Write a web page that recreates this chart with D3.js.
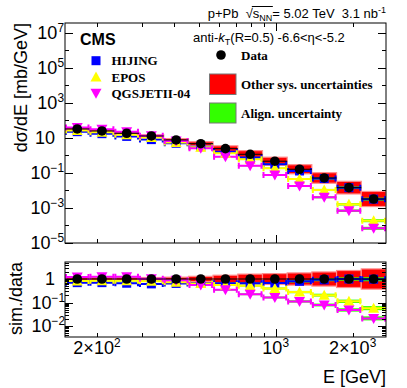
<!DOCTYPE html>
<html>
<head>
<meta charset="utf-8">
<script src="https://cdn.jsdelivr.net/npm/d3@7"></script>
<style>
body { margin: 0; background: #fff; }
svg { display: block; }
text { font-family: "Liberation Sans", Arial, sans-serif; white-space: pre; }
.leg { font-family: "Liberation Serif", "Times New Roman", serif; font-weight: bold; font-size: 13px; }
</style>
</head>
<body>
<div id="chart"></div>
<script>
// energy bins (GeV), 13 log bins
const binEdges = [150, 187, 234, 292, 365, 456, 569, 711, 888, 1109, 1385, 1730, 2161, 2700]
// measured cross section, mb/GeV
const dataXsec = [32.7, 25.1, 18.6, 13.0, 7.7, 4.7, 2.45, 1.17, 0.47, 0.163, 0.052, 0.0145, 0.00327]
// other systematic uncertainty (relative, as factor 1+u)
const sysUnc = [0.15, 0.15, 0.15, 0.16, 0.2, 0.3, 0.45, 0.62, 0.7, 0.82, 1.0, 1.3, 1.7]
// generator predictions, mb/GeV
const hijing = [22.9, 17.6, 12.3, 8.06, 5.0, 3.2, 1.62, 0.77, 0.32, 0.13, 0.048, 0.0145, 0.0032]
const epos = [27, 21, 15.5, 10.5, 5.6, 3.0, 1.35, 0.61, 0.186, 0.0454, 0.0107, 0.00163, 0.000188]
const qgsjet = [40, 31, 23, 13.5, 6.8, 2.6, 0.853, 0.261, 0.077, 0.0181, 0.00408, 0.0007, 0.000069]
// alignment uncertainty on the predictions (relative)
const alignUnc = [0.05, 0.05, 0.05, 0.05, 0.06, 0.07, 0.08, 0.09, 0.1, 0.12, 0.15, 0.18, 0.22]

const xTickLabels = [[200, "2×10", "2"], [1000, "10", "3"], [2000, "2×10", "3"]]
const topYLabels = [[1e7, "10", "7"], [1e5, "10", "5"], [1e3, "10", "3"], [10, "10", ""], [1e-1, "10", "−1"], [1e-3, "10", "−3"], [1e-5, "10", "−5"]]
const ratioYLabels = [[1, "1", ""], [0.1, "10", "−1"], [0.01, "10", "−2"]]

const models = [
	{ name: "HIJING", vals: hijing, color: "#0000ff", shape: "square" },
	{ name: "EPOS", vals: epos, color: "#ffff00", shape: "up" },
	{ name: "QGSJETII-04", vals: qgsjet, color: "#ff00ff", shape: "down" },
]

const W = 407, H = 388
const xL = 65, xR = 386

const svg = d3.select("#chart").append("svg").attr("width", W).attr("height", H)

const x = d3.scaleLog().domain([150, 2700]).range([xL, xR])
const yTop = d3.scaleLog().domain([1e-5, 3.7e7]).range([243, 23])
const yRat = d3.scaleLog().domain([0.0034, 5.3]).range([337, 262])

const bins = d3.range(dataXsec.length).map(i => ({
	i, lo: binEdges[i], hi: binEdges[i + 1], c: Math.sqrt(binEdges[i] * binEdges[i + 1]),
}))

function marker(g, shape, cx, cy, color) {
	if (shape === "square") {
		g.append("rect").attr("x", cx - 4.5).attr("y", cy - 4.5).attr("width", 9).attr("height", 9).attr("fill", color)
	} else if (shape === "circle") {
		g.append("circle").attr("cx", cx).attr("cy", cy).attr("r", 4.8).attr("fill", color)
	} else {
		const s = shape === "up" ? 1 : -1
		g.append("path")
			.attr("d", `M${cx - 5.5},${cy + 4.5 * s} L${cx + 5.5},${cy + 4.5 * s} L${cx},${cy - 5.5 * s}Z`)
			.attr("fill", color)
	}
}

function drawPanel({ y, y0, y1, clipId, dataVals, modelVals }) {
	svg.append("clipPath").attr("id", clipId)
		.append("rect").attr("x", xL).attr("y", y0).attr("width", xR - xL).attr("height", y1 - y0)
	const g = svg.append("g").attr("clip-path", `url(#${clipId})`)

	// other sys. uncertainties
	g.selectAll("rect.sys").data(bins).enter().append("rect")
		.attr("class", "sys")
		.attr("x", d => x(d.lo)).attr("width", d => x(d.hi) - x(d.lo))
		.attr("y", d => y(dataVals[d.i] * (1 + sysUnc[d.i])))
		.attr("height", d => y(dataVals[d.i] / (1 + sysUnc[d.i])) - y(dataVals[d.i] * (1 + sysUnc[d.i])))
		.attr("fill", "#ff0000").attr("stroke", "#ff8c8c").attr("stroke-width", 1.2)

	// alignment uncertainty on the predictions
	modelVals.forEach(m => {
		g.selectAll(null).data(bins).enter().append("rect")
			.attr("x", d => x(d.lo)).attr("width", d => x(d.hi) - x(d.lo))
			.attr("y", d => y(m.vals[d.i] * (1 + alignUnc[d.i])))
			.attr("height", d => y(m.vals[d.i] / (1 + alignUnc[d.i])) - y(m.vals[d.i] * (1 + alignUnc[d.i])))
			.attr("fill", "#33ff00")
	})

	// predictions: horizontal bars with end caps
	modelVals.forEach(m => {
		bins.forEach(d => {
			const yy = y(m.vals[d.i])
			const a = x(d.lo) + 1, b = x(d.hi) - 1
			g.append("path")
				.attr("d", `M${a},${yy} H${b} M${a},${yy - 3} V${yy + 3} M${b},${yy - 3} V${yy + 3}`)
				.attr("stroke", m.color).attr("stroke-width", 2).attr("fill", "none")
		})
	})
	modelVals.forEach(m => {
		bins.forEach(d => marker(g, m.shape, x(d.c), y(m.vals[d.i]), m.color))
	})

	// data
	bins.forEach(d => {
		const yy = y(dataVals[d.i])
		g.append("line").attr("x1", x(d.lo)).attr("x2", x(d.hi)).attr("y1", yy).attr("y2", yy)
			.attr("stroke", "#000").attr("stroke-width", 1)
		marker(g, "circle", x(d.c), yy, "#000")
	})

	// frame
	svg.append("rect").attr("x", xL).attr("y", y0).attr("width", xR - xL).attr("height", y1 - y0)
		.attr("fill", "none").attr("stroke", "#000").attr("stroke-width", 1)

	// x ticks, bottom and top
	const xt = svg.append("g").attr("stroke", "#000").attr("stroke-width", 1)
	const xMinor = [200, 300, 400, 500, 600, 700, 800, 900, 2000]
	xMinor.concat([1000]).forEach(v => {
		const len = v === 1000 ? 8 : 4
		const px = Math.round(x(v)) + 0.5
		xt.append("line").attr("x1", px).attr("x2", px).attr("y1", y1).attr("y2", y1 - len)
		xt.append("line").attr("x1", px).attr("x2", px).attr("y1", y0).attr("y2", y0 + len)
	})
	return xt
}

function yTicks(ticks) {
	const g = svg.append("g").attr("stroke", "#000").attr("stroke-width", 1)
	ticks.forEach(([py, len]) => {
		const p = Math.round(py) + 0.5
		g.append("line").attr("x1", xL).attr("x2", xL + len).attr("y1", p).attr("y2", p)
		g.append("line").attr("x1", xR).attr("x2", xR - len).attr("y1", p).attr("y2", p)
	})
}

function expText(xx, yy, base, exp, anchor, size) {
	const t = svg.append("text").attr("x", xx).attr("y", yy)
		.attr("text-anchor", anchor).attr("font-size", size).attr("fill", "#000")
	t.append("tspan").text(base)
	if (exp) t.append("tspan").attr("dy", -7).attr("font-size", size * 0.66).text(exp)
	return t
}

// top panel
drawPanel({
	y: yTop, y0: 23, y1: 243, clipId: "clipTop", dataVals: dataXsec,
	modelVals: models,
})
yTicks(d3.range(-5, 8).map(e => [yTop(Math.pow(10, e)), Math.abs(e) % 2 === 1 ? 8 : 4]))
topYLabels.forEach(([v, b, e]) => {
	expText(e ? 64 : 55, yTop(v) + 6, b, e, "end", 18)
})

// ratio panel
const ratioOf = vals => vals.map((v, i) => v / dataXsec[i])
drawPanel({
	y: yRat, y0: 262, y1: 337, clipId: "clipRat", dataVals: dataXsec.map(() => 1),
	modelVals: models.map(m => ({ ...m, vals: ratioOf(m.vals) })),
})
const ratTicks = []
;[0.001, 0.01, 0.1, 1].forEach(dec => {
	d3.range(1, 10).forEach(k => {
		const v = dec * k
		if (v > 0.0034 && v < 5.3) ratTicks.push([yRat(v), k === 1 ? 8 : 4])
	})
})
yTicks(ratTicks)
ratioYLabels.forEach(([v, b, e]) => {
	expText(e ? 65 : 55, yRat(v) + 6, b, e, "end", 18)
})

// x tick labels
xTickLabels.forEach(([v, b, e]) => expText(x(v), 354, b, e, "middle", 18))

// axis titles
svg.append("text").attr("transform", "translate(27,23) rotate(-90)")
	.attr("text-anchor", "end").attr("font-size", 18).text("dσ/dE [mb/GeV]")
svg.append("text").attr("transform", "translate(22,262) rotate(-90)")
	.attr("text-anchor", "end").attr("font-size", 18).text("sim./data")
svg.append("text").attr("x", 386).attr("y", 383)
	.attr("text-anchor", "end").attr("font-size", 18).text("E [GeV]")

// header: p+Pb sqrt(sNN) and lumi
const hdr = svg.append("text").attr("x", 386).attr("y", 17.5)
	.attr("text-anchor", "end").attr("font-size", 13)
hdr.append("tspan").text("p+Pb  √")
hdr.append("tspan").text("s")
hdr.append("tspan").attr("dy", 3).attr("font-size", 9).text("NN")
hdr.append("tspan").attr("dy", -3).text("= 5.02 TeV  3.1 nb")
hdr.append("tspan").attr("dy", -5).attr("font-size", 9).text("-1")
{
	const n = hdr.node()
	const sIdx = "p+Pb  √".length
	const x1 = n.getStartPositionOfChar(sIdx).x - 1
	const x2 = n.getEndPositionOfChar(sIdx + 2).x + 0.5
	svg.append("line").attr("x1", x1).attr("x2", x2).attr("y1", 6.5).attr("y2", 6.5)
		.attr("stroke", "#000").attr("stroke-width", 1)
}

svg.append("text").attr("x", 80).attr("y", 45).attr("font-size", 16).attr("font-weight", "bold").text("CMS")

const jet = svg.append("text").attr("x", 193).attr("y", 41.5).attr("font-size", 13)
jet.append("tspan").text("anti-")
jet.append("tspan").attr("font-style", "italic").text("k")
jet.append("tspan").attr("dy", 3).attr("font-size", 9).text("T")
jet.append("tspan").attr("dy", -3).text("(R=0.5) -6.6<η<-5.2")

// left legend: generators
const legY = [60.7, 77, 93.3]
models.forEach((m, i) => {
	marker(svg, m.shape, 96, legY[i], m.color)
	svg.append("text").attr("class", "leg").attr("x", 111.5).attr("y", legY[i] + 4.5).text(m.name)
})

// right legend
marker(svg, "circle", 221, 55, "#000")
svg.append("text").attr("class", "leg").attr("x", 241).attr("y", 59.5).text("Data")
svg.append("rect").attr("x", 209.5).attr("y", 74).attr("width", 26.5).attr("height", 20.5)
	.attr("fill", "#ff0000").attr("stroke", "#777").attr("stroke-width", 1)
svg.append("text").attr("class", "leg").attr("x", 241).attr("y", 88.5).text("Other sys. uncertainties")
svg.append("rect").attr("x", 209.5).attr("y", 103).attr("width", 26.5).attr("height", 20)
	.attr("fill", "#33ff00").attr("stroke", "#777").attr("stroke-width", 1)
svg.append("text").attr("class", "leg").attr("x", 241).attr("y", 117.5).text("Align. uncertainty")
</script>
</body>
</html>
